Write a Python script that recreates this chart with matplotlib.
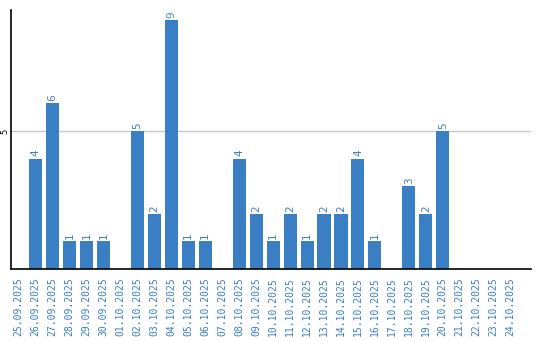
import matplotlib
matplotlib.use("Agg")
import matplotlib.pyplot as plt

dates = ["25.09.2025", "26.09.2025", "27.09.2025", "28.09.2025", "29.09.2025", "30.09.2025",
         "01.10.2025", "02.10.2025", "03.10.2025", "04.10.2025", "05.10.2025", "06.10.2025",
         "07.10.2025", "08.10.2025", "09.10.2025", "10.10.2025", "11.10.2025", "12.10.2025",
         "13.10.2025", "14.10.2025", "15.10.2025", "16.10.2025", "17.10.2025", "18.10.2025",
         "19.10.2025", "20.10.2025", "21.10.2025", "22.10.2025", "23.10.2025", "24.10.2025"]
values = [0, 4, 6, 1, 1, 1, 0, 5, 2, 9, 1, 1, 0, 4, 2, 1, 2, 1, 2, 2, 4, 1, 0, 3, 2, 5, 0, 0, 0, 0]

color = "#3a7fc4"
W, H = 540, 340
fig = plt.figure(figsize=(W/100, H/100), dpi=100)
ax = fig.add_axes([11/W, (H-269)/H, (531-11)/W, (269-10)/H])

x = list(range(len(dates)))
ax.bar(x, values, width=0.77, color=color, zorder=2)
for xi, v in zip(x, values):
    if v > 0:
        ax.text(xi, v + 0.08, str(v), rotation=90, ha="center", va="bottom",
                color=color, fontsize=7.5, family="DejaVu Sans")

ax.set_xlim(-0.45, 30.2)
ax.set_ylim(0, 9.38)
ax.set_yticks([5])
ax.set_yticklabels(["5"], rotation=90, va="center", fontsize=6)
ax.yaxis.grid(True, color="#c8c8c8", linewidth=1, zorder=0)
ax.set_axisbelow(True)
ax.tick_params(axis="y", length=0, pad=1.5)
ax.set_xticks(x)
ax.set_xticklabels(dates, rotation=90, color=color, fontsize=7, family="DejaVu Sans Mono")
ax.tick_params(axis="x", length=0, pad=6)
for s in ["top", "right"]:
    ax.spines[s].set_visible(False)
ax.spines["left"].set_linewidth(1.2)
ax.spines["bottom"].set_linewidth(1.2)

fig.savefig("out.png", dpi=100)
